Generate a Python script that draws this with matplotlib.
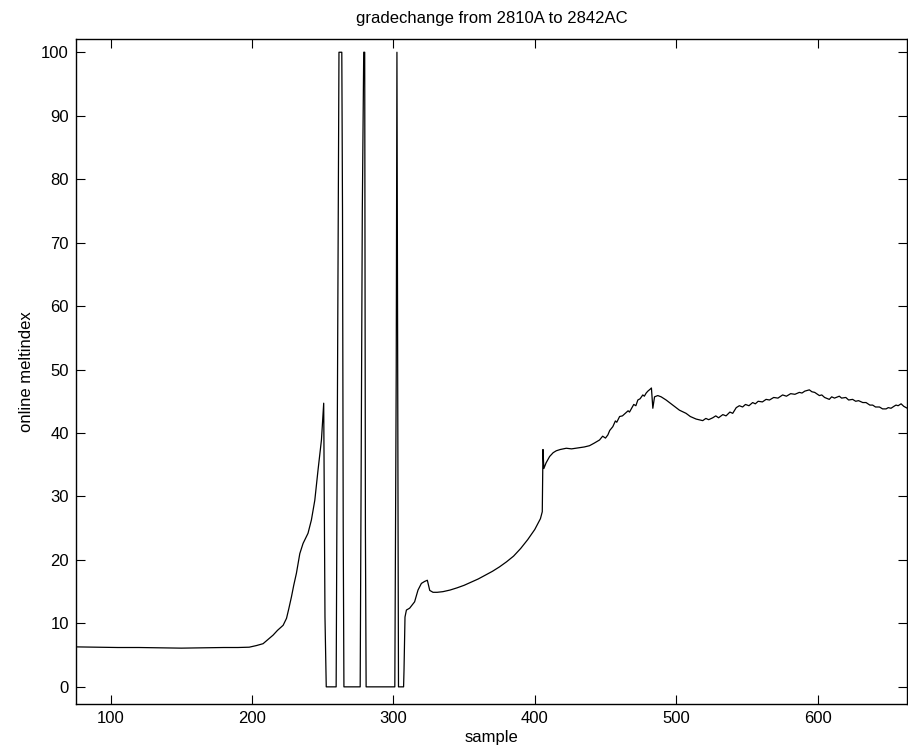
import matplotlib
matplotlib.use("Agg")
import matplotlib.pyplot as plt

plt.rcParams['font.family'] = ['Liberation Sans', 'DejaVu Sans']

title = "gradechange from 2810A to 2842AC"
xlabel = "sample"
ylabel = "online meltindex"
xticks = [100, 200, 300, 400, 500, 600]
yticks = [0, 10, 20, 30, 40, 50, 60, 70, 80, 90, 100]

# flat start and rise to first peak
sample_a = [75, 90, 105, 120, 135, 150, 165, 180, 190, 198, 203, 207.8, 211, 214.9,
            218, 222, 224.4, 226, 227.9, 229.5, 231.4, 233.8, 236.1, 239.6, 242,
            244.4, 246.7, 249.1, 250.7, 251.6, 252.5]
melt_a = [6.3, 6.25, 6.2, 6.2, 6.15, 6.1, 6.15, 6.2, 6.2, 6.25, 6.5, 6.8, 7.4, 8.15,
          8.9, 9.7, 10.8, 12.3, 14.2, 16.0, 17.9, 21.0, 22.6, 24.2, 26.3,
          29.4, 34.2, 38.9, 44.7, 11.0, 0.0]

# saturated spikes
sample_b = [259.5, 260, 261, 261.5, 263.5, 264, 264.5, 265, 276.5, 277, 278, 279,
            279.7, 280.2, 280.7, 301, 301.5, 302, 302.5, 303, 303.3, 303.6, 307.2]
melt_b = [0, 25, 75, 100, 100, 75, 25, 0, 0, 25, 75, 100,
          100, 25, 0, 0, 25, 50, 100, 50, 25, 0, 0]

# recovery and jump to second grade
sample_c = [307.5, 308.2, 309.2, 311.5, 315, 317.4, 319.8, 322, 324, 325.7, 328, 331,
            335, 340, 345, 350, 355, 360, 365, 370, 375, 380, 385, 390, 395, 400,
            404, 405.3, 405.8, 406.4, 408, 410.5, 413, 415.2, 418, 422.3, 426,
            431.7, 435, 438.7, 442]
melt_c = [2.6, 11.0, 12.1, 12.4, 13.4, 15.25, 16.3, 16.6, 16.8, 15.2, 14.9, 14.9,
          15.0, 15.25, 15.6, 16.0, 16.5, 17.0, 17.6, 18.2, 18.9, 19.7, 20.6, 21.8,
          23.2, 24.8, 26.5, 27.6, 37.4, 34.4, 35.3, 36.3, 36.9, 37.2, 37.4, 37.6,
          37.5, 37.7, 37.8, 38.0, 38.4]

# second grade, noisy
sample_d = [445.8, 448, 450, 451.7, 453, 455.2, 457, 458, 460, 462, 464, 466, 467,
            469, 470, 471.5, 472.9, 474.5, 476.4, 477.5, 478.8, 480, 481.6, 482.5,
            483.5, 484.7, 487, 489.4, 492.9, 497.6, 502.3, 507, 510, 514.1, 518.8,
            521, 523, 525.9, 528, 530, 533, 535.3, 538, 540, 542.5, 544.7, 547, 549,
            551.5, 554.1, 556, 558, 561, 563.6, 566, 569, 572, 575.3, 578, 581, 584,
            587.1, 589, 591, 594.2, 596, 598, 601.3, 603, 605, 608.3, 610, 612,
            615.4, 617, 620, 622, 624.8, 627, 629, 632, 634.3, 637, 639, 641, 643.8,
            646, 648.5, 650, 652, 654, 655.5, 657, 659.1, 661, 663.5]
melt_d = [38.9, 39.5, 39.2, 39.7, 40.4, 41.0, 41.9, 41.7, 42.6, 42.7, 43.1, 43.5, 43.3,
          44.1, 44.5, 44.3, 45.2, 45.4, 46.0, 45.8, 46.3, 46.6, 46.9, 47.1,
          43.9, 45.7, 45.9, 45.7, 45.2, 44.4, 43.6, 43.1, 42.6, 42.2, 41.95,
          42.3, 42.1, 42.4, 42.7, 42.4, 42.9, 42.7, 43.3, 43.1, 44.0, 44.3, 44.1, 44.5,
          44.3, 44.8, 44.6, 45.0, 44.9, 45.3, 45.2, 45.6, 45.5, 46.0, 45.8, 46.2, 46.1,
          46.4, 46.3, 46.6, 46.8, 46.5, 46.4, 45.9, 46.0, 45.6, 45.3, 45.7, 45.5,
          45.8, 45.5, 45.6, 45.2, 45.3, 45.0, 45.1, 44.8, 44.8, 44.4, 44.4, 44.1, 44.1,
          43.8, 43.8, 44.0, 43.9, 44.2, 44.4, 44.3, 44.6, 44.2, 43.9]

sample = sample_a + sample_b + sample_c + sample_d
melt = melt_a + melt_b + melt_c + melt_d

fig = plt.figure(figsize=(9.08, 7.56), dpi=100)
ax = fig.add_axes([0.0834, 0.0688, 0.9160, 0.8793])
ax.plot(sample, melt, color='black', linewidth=0.9)
ax.set_xlim(75.3, 663.6)
ax.set_ylim(-2.7, 102.05)
ax.set_xticks(xticks)
ax.set_yticks(yticks)
ax.tick_params(direction='in', length=6.5, width=0.8, top=True, right=True,
               labelsize=12, pad=5)
for s in ax.spines.values():
    s.set_linewidth(1.0)
ax.set_title(title, fontsize=12, pad=12)
ax.set_xlabel(xlabel, fontsize=12, labelpad=3)
ax.set_ylabel(ylabel, fontsize=12, labelpad=5)
fig.savefig("out.png", dpi=100)
